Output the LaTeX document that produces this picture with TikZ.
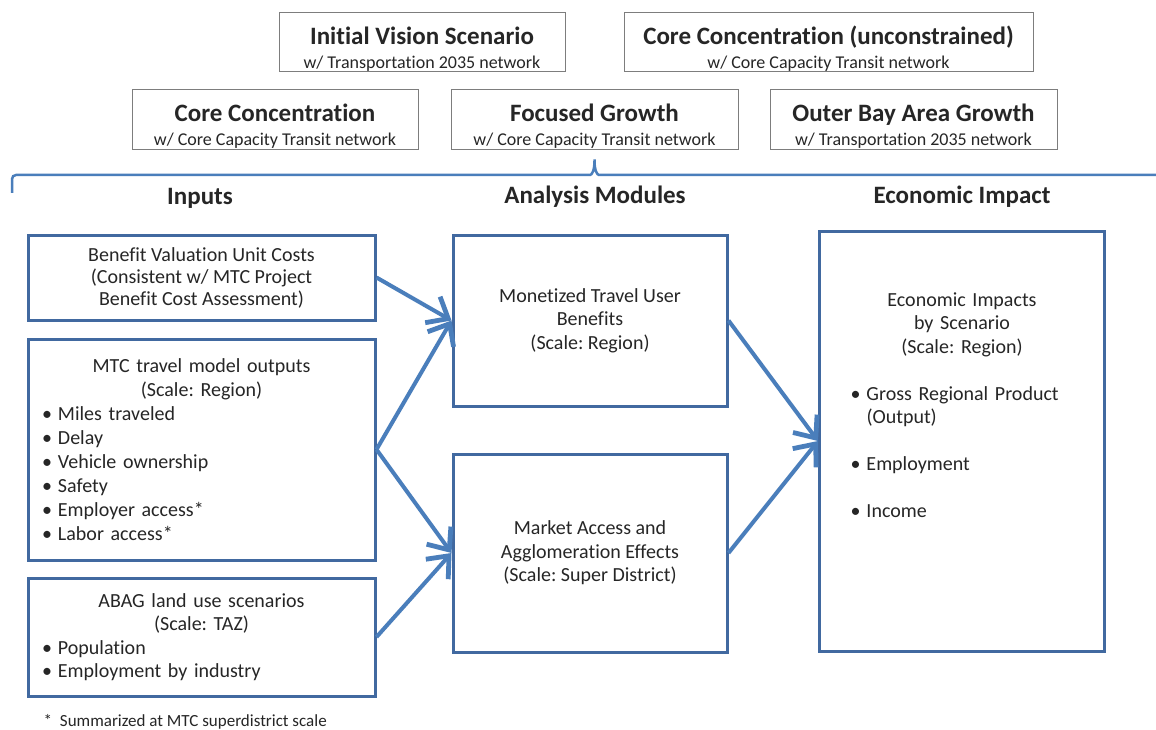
\documentclass[tikz,border=0pt]{standalone}
\usepackage{fontspec}
\setmainfont{Carlito}[Ligatures=NoCommon]
\usetikzlibrary{arrows.meta}
\frenchspacing

% scenario box text: bold title over a small network line
\newcommand{\scen}[2]{{\fontsize{25}{26}\selectfont\bfseries\rule{0pt}{30pt}#1}\\#2}
% one bullet line in a box
\newcommand{\dotitem}[1]{\makebox[16pt][l]{\textbullet}#1}

\begin{document}
\begin{tikzpicture}[x=1pt,y=-1pt,
  scenario/.style={draw=framegray,line width=1pt,align=center,text=textgray,
    inner sep=0pt,font=\fontsize{18}{24}\selectfont},
  header/.style={font=\fontsize{25}{30}\selectfont\bfseries,text=textgray},
  modbox/.style={draw=boxblue,line width=3pt,text=textgray,inner sep=0pt,
    font=\fontsize{20}{23.5}\selectfont},
  feed/.style={draw=arrowblue,line width=4pt,
    -{Straight Barb[length=18pt,width=30pt,line width=0pt 1.2]}}
]
\definecolor{boxblue}{RGB}{65,105,160}
\definecolor{arrowblue}{RGB}{74,126,187}
\definecolor{framegray}{RGB}{125,125,125}
\definecolor{textgray}{RGB}{38,38,38}
\useasboundingbox[fill=white] (0,0) rectangle (1156,730);

% Scenarios
\node[scenario,minimum width=286pt,minimum height=59pt] (initial) at (422,42.5)
  {\scen{Initial Vision Scenario}{w/ Transportation 2035 network}};
\node[scenario,minimum width=409pt,minimum height=59pt] (uncon) at (828.5,42.5)
  {\scen{Core Concentration (unconstrained)}{w/ Core Capacity Transit network}};
\node[scenario,minimum width=286pt,minimum height=60pt] (core) at (275,120)
  {\scen{Core Concentration}{w/ Core Capacity Transit network}};
\node[scenario,minimum width=287pt,minimum height=60pt] (focused) at (594.5,120)
  {\scen{Focused Growth}{w/ Core Capacity Transit network}};
\node[scenario,minimum width=287pt,minimum height=60pt] (outer) at (913.5,120)
  {\scen{Outer Bay Area Growth}{w/ Transportation 2035 network}};

% Brace under the scenarios
\draw[arrowblue,line width=2.5pt,rounded corners=4pt] (12,193) -- (12,175) -- (586,175)
  .. controls (592,175) and (594.5,170) .. (594.5,157)
  .. controls (594.5,170) and (597,175) .. (603,175) -- (1156,175);

% Column headers
\node[header] (inputs) at (200,198) {Inputs};
\node[header] (modules) at (595,197) {Analysis Modules};
\node[header] (impact) at (962,197) {Economic Impact};

% Inputs
\node[modbox,minimum width=347pt,minimum height=85pt,align=center,
  font=\fontsize{20}{22}\selectfont] (benefit) at (201.5,277.5)
  {Benefit Valuation Unit Costs\\(Consistent w/ MTC Project\\Benefit Cost Assessment)};
\node[modbox,minimum width=347pt,minimum height=221pt,text width=319pt,
  font=\fontsize{20}{24}\selectfont] (mtc) at (201.5,449.5)
  {{\centering MTC travel model outputs\\(Scale: Region)\par}\raggedright
  \dotitem{Miles traveled}\\
  \dotitem{Delay}\\
  \dotitem{Vehicle ownership}\\
  \dotitem{Safety}\\
  \dotitem{Employer access*}\\
  \dotitem{Labor access*}};
\node[modbox,minimum width=347pt,minimum height=118pt,text width=319pt] (abag) at (201.5,637)
  {{\centering ABAG land use scenarios\\(Scale: TAZ)\par}\raggedright
  \dotitem{Population}\\
  \dotitem{Employment by industry}};
\node[anchor=west,text=textgray,font=\fontsize{17}{20}\selectfont] (note) at (40,722)
  {*\hspace{8pt}Summarized at MTC superdistrict scale};

% Analysis modules
\node[modbox,minimum width=274pt,minimum height=171pt,align=center] (monetized) at (590,320.5)
  {Monetized Travel User\\Benefits\\(Scale: Region)};
\node[modbox,minimum width=274pt,minimum height=198pt,align=center] (market) at (590,553)
  {Market Access and\\Agglomeration Effects\\(Scale: Super District)};

% Economic impact
\node[modbox,minimum width=285pt,minimum height=420pt] (econ) at (962,441) {};
\node[anchor=north,text width=223pt,text=textgray,font=\fontsize{20}{23.5}\selectfont]
  (econtext) at (962,289)
  {{\centering Economic Impacts\\by Scenario\\(Scale: Region)\par}\vskip 23.5pt\raggedright
  \dotitem{Gross Regional Product}\\
  \hspace*{16pt}(Output)\\[23.5pt]
  \dotitem{Employment}\\[23.5pt]
  \dotitem{Income}};

% Flows
\draw[feed] (benefit.east) -- (monetized.west);
\draw[feed] (mtc.east) -- (monetized.west);
\draw[feed] (mtc.east) -- (market.west);
\draw[feed] (abag.east) -- (market.west);
\draw[feed] (monetized.east) -- (econ.west);
\draw[feed] (market.east) -- (econ.west);
\end{tikzpicture}
\end{document}
